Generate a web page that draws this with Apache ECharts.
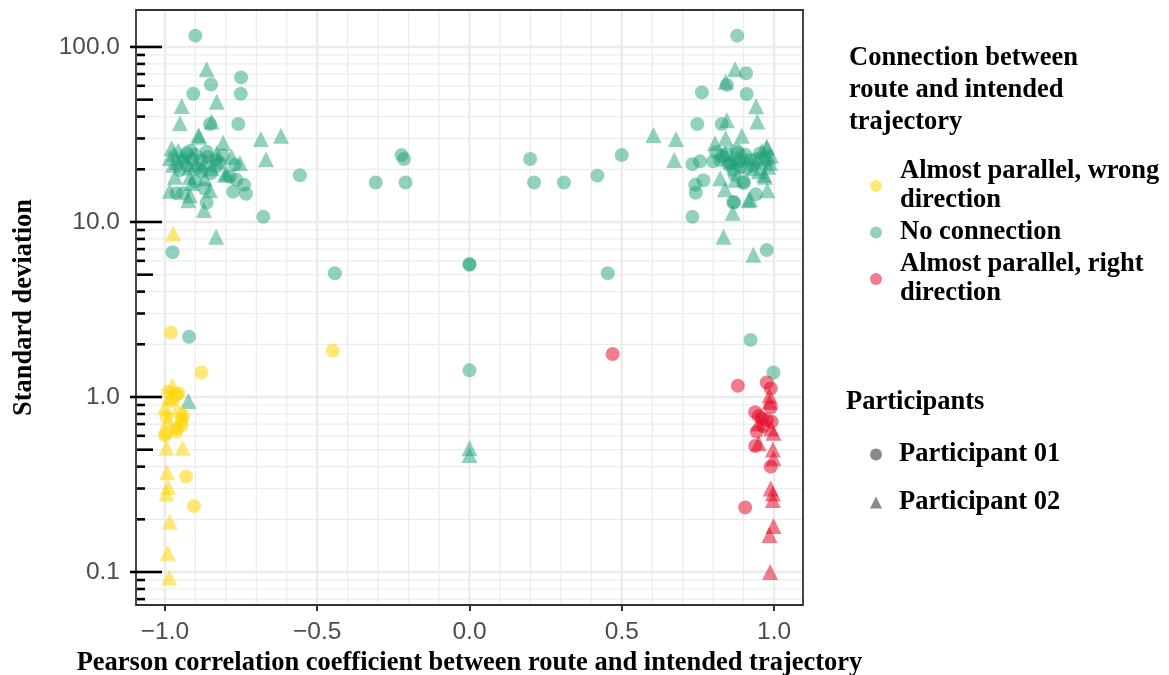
<!DOCTYPE html>
<html><head><meta charset="utf-8">
<script src="https://cdn.jsdelivr.net/npm/echarts@6/dist/echarts.min.js"></script>
<style>html,body{margin:0;padding:0;background:#fff}#c{width:1169px;height:675px}</style>
</head><body><div id="c"></div>
<script>
// ---------- data ----------
const categories = ['Almost parallel, wrong direction', 'No connection', 'Almost parallel, right direction'];
const categoryLabels = ['Almost parallel, wrong\ndirection', 'No connection', 'Almost parallel, right\ndirection'];
const participants = ['Participant 01', 'Participant 02'];
const xTitle = 'Pearson correlation coefficient between route and intended trajectory';
const yTitle = 'Standard deviation';
const legendTitle = 'Connection between\nroute and intended\ntrajectory';
const legendTitle2 = 'Participants';

// [correlation, standard deviation]
const wrongP1 = [[-0.98,2.33],[-0.88,1.38],[-0.449,1.84],[-0.989,1.07],[-0.962,1.03],[-0.956,1.05],[-0.953,0.813],
  [-0.945,0.739],[-0.962,0.662],[-0.997,0.62],[-0.931,0.351],[-0.905,0.238],[-0.995,0.77],[-0.945,0.69],
  [-1.0,0.607],[-0.962,0.634],[-0.975,0.95],[-0.94,0.78]];
const wrongP2 = [[-0.973,8.6],[-0.976,1.16],[-1.0,0.873],[-0.995,0.513],[-0.942,0.513],[-0.993,0.371],
  [-0.99,0.307],[-0.995,0.281],[-0.984,0.194],[-0.991,0.129],[-0.986,0.093],[-0.985,1.0],[-0.99,0.74]];
const noneP1 = [[-0.90,116],[-0.75,67],[-0.849,61],[-0.907,54],[-0.751,54],[-0.852,36.3],[-0.759,36.3],
  [-0.557,18.5],[-0.677,10.7],[-0.74,16.3],[-0.734,14.5],[-0.776,14.9],[-0.863,12.9],[-0.94,14.6],[-0.962,14.6],
  [-0.765,17.4],[-0.77,21.2],[-0.929,24.7],[-0.901,24.2],[-0.879,22.6],[-0.863,25.2],[-0.89,20.3],[-0.94,22.6],
  [-0.836,22.6],[-0.82,21.7],[-0.787,18.1],[-0.901,17.0],[-0.951,19.8],[-0.85,19.0],[-0.915,25.5],[-0.87,15.5],
  [-0.81,24.0],[-0.93,21],[-0.88,19.5],[-0.86,23.5],[-0.91,22.8],[-0.83,20.8],
  [-0.308,16.8],[-0.223,24.1],[-0.215,22.9],[-0.21,16.8],[0.199,22.9],[0.212,16.8],[0.31,16.8],[0.42,18.4],
  [0.5,24.1],[-0.442,5.09],[0,5.7],[0,5.75],[0.454,5.09],[0,1.42],
  [-0.975,6.71],[-0.921,2.21],
  [0.879,116],[0.908,70.8],[0.845,60.7],[0.763,55],[0.91,53.8],[0.748,36.3],[0.828,36.3],[0.732,21.4],
  [0.757,22.2],[0.741,16.3],[0.768,17.3],[0.743,14.7],[0.94,14.4],[0.869,12.9],[0.732,10.7],[0.9,16.7],
  [0.976,6.92],[0.866,13.0],[0.877,25.7],[0.845,24.7],[0.905,24.2],[0.866,19.8],[0.9,17.0],[0.823,22.6],
  [0.921,22.6],[0.954,24.7],[0.888,22.2],[0.8,22.2],[0.856,21.7],[0.923,2.12],[0.998,1.38],[0.89,20.5],
  [0.93,21.0],[0.81,25.0],[0.85,21.3],[0.88,24.8],[0.91,20.3],[0.94,22.8],[0.83,23.6],[0.87,18.6]];
const noneP2 = [[-0.863,74.6],[-0.83,48.7],[-0.945,46.0],[-0.951,36.6],[-0.847,37.5],[-0.888,30.7],[-0.809,28.4],
  [-0.685,29.8],[-0.619,31.1],[-0.668,22.8],[-0.978,26.4],[-0.984,15.1],[-0.923,13.3],[-0.872,11.7],[-0.832,8.24],
  [-0.797,19.0],[-0.781,23.6],[-0.967,18.1],[-0.89,31.4],[-0.956,25.5],[-0.984,23.2],[-0.973,21.2],[-0.918,18.1],
  [-0.912,16.7],[-0.869,17.8],[-0.852,15.2],[-0.918,14.2],[-0.847,20.3],[-0.83,24.7],[-0.803,18.6],[-0.754,21.7],
  [-0.923,0.949],[-0.96,22.0],[-0.90,21.5],[-0.94,23.8],[-0.87,21.8],[-0.97,24.5],[-0.92,20.5],
  [0,0.509],[0,0.466],[0.604,31.4],
  [0.872,74.6],[0.841,63.3],[0.941,45.8],[0.945,37.5],[0.845,38.1],[0.678,29.8],[0.672,22.6],[0.894,31.1],
  [0.806,28.2],[0.841,30.1],[0.976,27.0],[0.823,17.8],[0.839,15.4],[0.864,11.3],[0.921,13.5],[0.978,15.2],
  [0.967,18.6],[0.834,8.24],[0.932,6.49],[0.976,26.4],[0.981,23.6],[0.981,20.7],[0.97,18.1],[0.916,13.3],
  [0.872,17.4],[0.954,22.2],[0.932,20.3],[0.877,23.2],[0.839,24.7],[0.987,21.7],[0.96,25.5],[0.99,24.0],
  [0.9,23.8],[0.95,19.5],[0.86,22.4],[0.97,23.0]];
const rightP1 = [[0.47,1.76],[0.881,1.16],[0.976,1.21],[0.989,1.12],[0.989,0.873],[0.938,0.818],[0.96,0.755],
  [0.976,0.739],[0.992,0.723],[0.943,0.634],[0.938,0.525],[0.989,0.40],[0.905,0.234],[0.95,0.78],[0.965,0.68]];
const rightP2 = [[0.985,0.94],[0.949,0.707],[0.998,0.625],[0.949,0.544],[0.996,0.502],[0.998,0.446],[0.989,0.30],
  [0.996,0.281],[0.996,0.258],[0.998,0.183],[0.985,0.163],[0.987,0.100],[0.985,1.02],[0.99,0.66]];

const xTickValues = [-1, -0.5, 0, 0.5, 1];
const xMinorGrid = [-0.9,-0.8,-0.7,-0.6,-0.4,-0.3,-0.2,-0.1,0.1,0.2,0.3,0.4,0.6,0.7,0.8,0.9];
const yLogTicks = [0.07,0.08,0.09,0.1,0.2,0.3,0.4,0.5,0.6,0.7,0.8,0.9,1,2,3,4,5,6,7,8,9,
  10,20,30,40,50,60,70,80,90,100];

// ---------- chart ----------
const colors = ['rgba(255,212,0,0.68)', 'rgba(27,158,119,0.6)', 'rgba(228,6,34,0.66)'];
const serif = 'Liberation Serif, Times New Roman, serif';
const sans = 'Liberation Sans, Arial, sans-serif';
const gridCol = '#EBEBEB';
const serifSize = 26.5;

function mantissa(v) { const e = Math.floor(Math.log10(v) + 1e-9); return Math.round(v / Math.pow(10, e)); }

const chart = echarts.init(document.getElementById('c'), null, {renderer: 'canvas'});

function vGrid(major) {
  return function (params, api) {
    const cs = params.coordSys;
    const p = api.coord([api.value(0), 1]);
    return {type: 'line', silent: true,
      shape: {x1: p[0], y1: cs.y + 1, x2: p[0], y2: cs.y + cs.height - 1},
      style: {stroke: gridCol, lineWidth: major ? 2.4 : 1.2}};
  };
}
function hGrid(params, api) {
  const cs = params.coordSys;
  const v = api.value(1);
  const p = api.coord([0, v]);
  const major = mantissa(v) === 1;
  return {type: 'line', silent: true,
    shape: {x1: cs.x + 1, y1: p[1], x2: cs.x + cs.width - 1, y2: p[1]},
    style: {stroke: gridCol, lineWidth: major ? 2.4 : 1.2}};
}
function logTick(params, api) {
  const cs = params.coordSys;
  const v = api.value(1);
  const p = api.coord([0, v]);
  const m = mantissa(v);
  let x1 = cs.x + 1, x2 = cs.x + 9;
  if (m === 1) { x1 = cs.x - 6; x2 = cs.x + 26; }
  else if (m === 5) { x2 = cs.x + 17; }
  return {type: 'line', silent: true,
    shape: {x1: x1, y1: p[1], x2: x2, y2: p[1]},
    style: {stroke: '#000', lineWidth: 2.6}};
}

const scatter = (name, data, symbol, color) => ({
  type: 'scatter', name: name, data: data, symbol: symbol,
  symbolSize: symbol === 'circle' ? 14 : 16,
  itemStyle: {color: color}, z: 3
});

const option = {
  animation: false,
  backgroundColor: '#fff',
  grid: {left: 136, right: 366, top: 10, bottom: 70, show: true, borderColor: '#333', borderWidth: 1.8,
    backgroundColor: 'transparent', outerBoundsMode: 'none', containLabel: false},
  title: [
    {text: legendTitle, left: 849, top: 42, padding: 0,
      textStyle: {fontFamily: serif, fontWeight: 'bold', fontSize: serifSize, lineHeight: 32, color: '#000'}},
    {text: legendTitle2, left: 846, top: 386, padding: 0,
      textStyle: {fontFamily: serif, fontWeight: 'bold', fontSize: serifSize, lineHeight: 32, color: '#000'}}
  ],
  legend: [
    {orient: 'vertical', left: 870, top: 157, padding: 0, itemWidth: 12, itemHeight: 12, itemGap: 3,
      selectedMode: false,
      data: categories.map(n => ({name: n, icon: 'circle'})),
      formatter: n => categoryLabels[categories.indexOf(n)],
      textStyle: {fontFamily: serif, fontWeight: 'bold', fontSize: serifSize, lineHeight: 29, color: '#000',
        padding: [0, 0, 0, 13]}},
    {orient: 'vertical', left: 870, top: 440, padding: 0, itemWidth: 12, itemHeight: 12, itemGap: 19,
      selectedMode: false,
      data: [{name: participants[0], icon: 'circle'}, {name: participants[1], icon: 'triangle'}],
      textStyle: {fontFamily: serif, fontWeight: 'bold', fontSize: serifSize, lineHeight: 29, color: '#000',
        padding: [0, 0, 0, 12]}}
  ],
  xAxis: {
    type: 'value', min: -1.095, max: 1.095,
    splitLine: {show: false}, axisLine: {show: false},
    axisTick: {show: true, customValues: xTickValues, length: 6, lineStyle: {color: '#333', width: 2}},
    axisLabel: {customValues: xTickValues, color: '#4d4d4d', fontSize: 24.5, fontFamily: sans, margin: 15,
      formatter: v => {
        if (Math.abs(v * 2 - Math.round(v * 2)) > 1e-6) return '';
        return (v < -1e-9 ? '\u2212' : '') + Math.abs(v).toFixed(1);
      }},
    name: xTitle, nameLocation: 'middle', nameGap: 40,
    nameTextStyle: {fontFamily: serif, fontWeight: 'bold', fontSize: serifSize, color: '#000'}
  },
  yAxis: {
    type: 'log', logBase: 10, min: 0.0648, max: 162.6,
    splitLine: {show: false}, axisLine: {show: false}, axisTick: {show: false},
    axisLabel: {color: '#4d4d4d', fontSize: 24.5, fontFamily: sans, margin: 16,
      formatter: v => {
        const l = Math.log10(v);
        if (Math.abs(l - Math.round(l)) > 1e-6) return '';
        return v.toFixed(1);
      }},
    name: yTitle, nameLocation: 'middle', nameGap: 98,
    nameTextStyle: {fontFamily: serif, fontWeight: 'bold', fontSize: serifSize, color: '#000'}
  },
  series: [
    {type: 'custom', silent: true, clip: false, z: 1, renderItem: vGrid(false),
      data: xMinorGrid.map(v => [v, 1])},
    {type: 'custom', silent: true, clip: false, z: 1, renderItem: vGrid(true),
      data: xTickValues.map(v => [v, 1])},
    {type: 'custom', silent: true, clip: false, z: 1, renderItem: hGrid,
      data: yLogTicks.map(v => [0, v])},
    scatter(categories[1], noneP1, 'circle', colors[1]),
    scatter(categories[1], noneP2, 'triangle', colors[1]),
    scatter(categories[0], wrongP1, 'circle', colors[0]),
    scatter(categories[0], wrongP2, 'triangle', colors[0]),
    scatter(categories[2], rightP1, 'circle', colors[2]),
    scatter(categories[2], rightP2, 'triangle', colors[2]),
    {type: 'scatter', name: participants[0], data: [], symbol: 'circle', itemStyle: {color: '#6b6b6b'}},
    {type: 'scatter', name: participants[1], data: [], symbol: 'triangle', itemStyle: {color: '#6b6b6b'}},
    {type: 'custom', silent: true, clip: false, z: 5, renderItem: logTick,
      data: yLogTicks.map(v => [0, v])}
  ]
};
chart.setOption(option);
</script>
</body></html>
